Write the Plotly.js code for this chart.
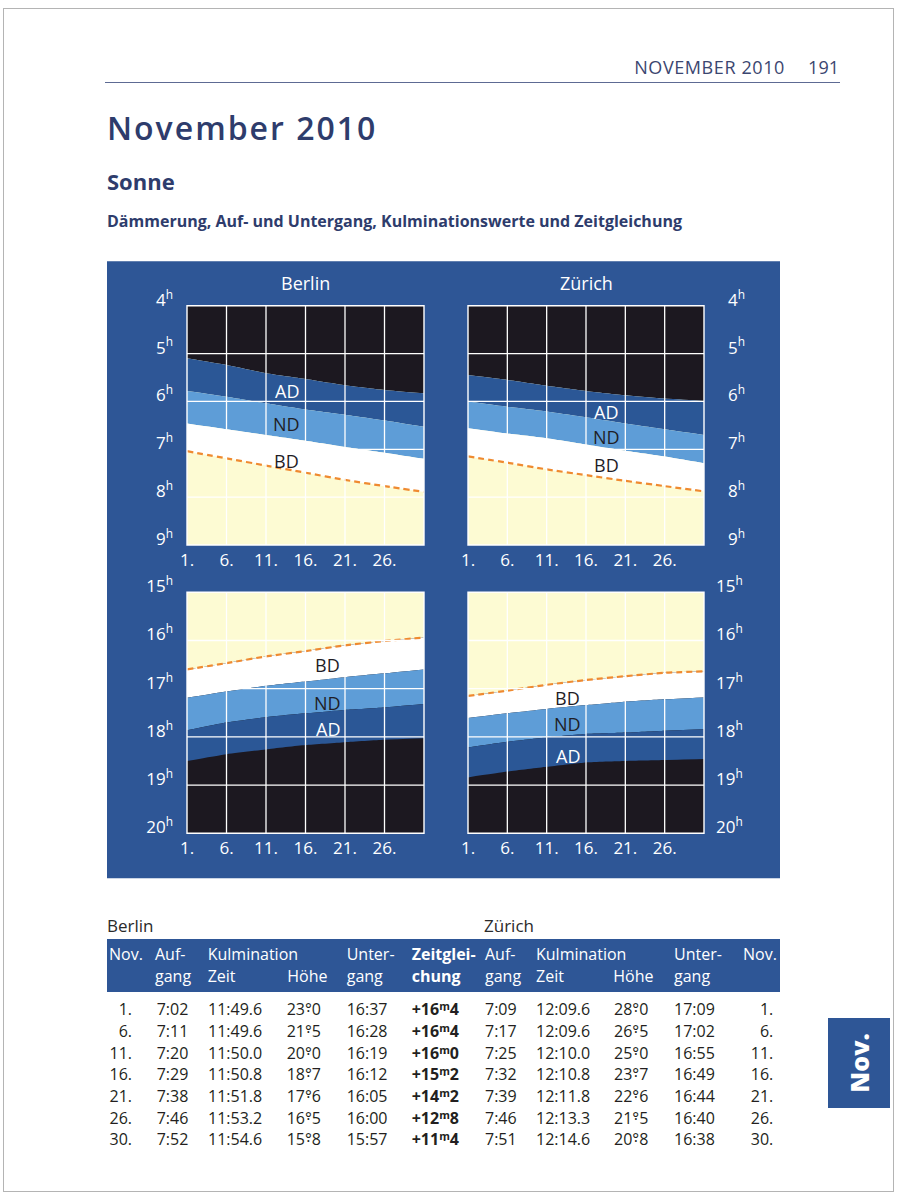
<!DOCTYPE html>
<html>
<head>
<meta charset="utf-8">
<script src="https://cdn.plot.ly/plotly-3.0.1.min.js"></script>
<style>
  html, body { margin:0; padding:0; background:#fff; }
  #page { position:relative; width:901px; height:1197px; overflow:hidden; font-family:'Open Sans', sans-serif; }
  #chart { position:absolute; left:0; top:0; width:901px; height:1197px; }
  .t { position:absolute; white-space:nowrap; line-height:1; z-index:5; }
  .frame { position:absolute; left:3px; top:8px; width:889px; height:1182px; border:1px solid #b4b4b4; z-index:1; pointer-events:none; }
  .dd { position:relative; display:inline-block; }
  .dd::after { content:'.'; position:absolute; left:0; right:0; text-align:center; top:-0.22em; }
  .mm { position:relative; display:inline-block; font-size:0.68em; vertical-align:0.5em; }
  .mm::after { content:'.'; position:absolute; left:0; right:0; text-align:center; top:0.05em; }
</style>
</head>
<body>
<div id="page">
  <div class="frame"></div>
  <div id="chart"></div>
</div>
<script>
// ---------------- chart data (hours) ----------------
const DAYS = [1, 6, 11, 16, 21, 26, 31];
const XTICKS = [1, 6, 11, 16, 21, 26];
const XTICK_LABELS = ['1.', '6.', '11.', '16.', '21.', '26.'];
const MORNING_HOURS = [4, 5, 6, 7, 8, 9];
const EVENING_HOURS = [15, 16, 17, 18, 19, 20];

// Berlin, morning: start of astronomical / nautical / civil twilight, sunrise
const BER_ASTRO_START = [5.10, 5.24, 5.41, 5.53, 5.66, 5.76, 5.83];
const BER_NAUT_START  = [5.78, 5.90, 6.04, 6.17, 6.28, 6.40, 6.53];
const BER_CIVIL_START = [6.46, 6.58, 6.70, 6.82, 6.95, 7.07, 7.20];
const BER_SUNRISE     = [7.04, 7.19, 7.34, 7.49, 7.64, 7.77, 7.89];
// Zürich, morning
const ZUR_ASTRO_START = [5.45, 5.55, 5.67, 5.78, 5.87, 5.94, 5.99];
const ZUR_NAUT_START  = [6.00, 6.11, 6.21, 6.33, 6.46, 6.58, 6.70];
const ZUR_CIVIL_START = [6.56, 6.67, 6.77, 6.90, 7.03, 7.15, 7.29];
const ZUR_SUNRISE     = [7.15, 7.28, 7.42, 7.54, 7.66, 7.77, 7.88];
// Berlin, evening: sunset, end of civil / nautical / astronomical twilight
const BER_SUNSET    = [16.60, 16.47, 16.33, 16.22, 16.10, 16.01, 15.94];
const BER_CIVIL_END = [17.19, 17.06, 16.94, 16.85, 16.76, 16.68, 16.60];
const BER_NAUT_END  = [17.86, 17.70, 17.59, 17.51, 17.44, 17.39, 17.32];
const BER_ASTRO_END = [18.50, 18.36, 18.26, 18.17, 18.11, 18.06, 18.03];
// Zürich, evening
const ZUR_SUNSET    = [17.15, 17.04, 16.92, 16.82, 16.74, 16.67, 16.64];
const ZUR_CIVIL_END = [17.61, 17.51, 17.42, 17.34, 17.27, 17.22, 17.18];
const ZUR_NAUT_END  = [18.22, 18.10, 18.01, 17.94, 17.91, 17.87, 17.84];
const ZUR_ASTRO_END = [18.84, 18.72, 18.62, 18.53, 18.50, 18.48, 18.46];

const BAND_LABELS = ['AD', 'ND', 'BD'];

// ---------------- table data ----------------
const TABLE_DAYS    = [1, 6, 11, 16, 21, 26, 30];
const BER_RISE      = ['7:02', '7:11', '7:20', '7:29', '7:38', '7:46', '7:52'];
const BER_CULM_TIME = ['11:49.6', '11:49.6', '11:50.0', '11:50.8', '11:51.8', '11:53.2', '11:54.6'];
const BER_CULM_ALT  = [23.0, 21.5, 20.0, 18.7, 17.6, 16.5, 15.8];
const BER_SET       = ['16:37', '16:28', '16:19', '16:12', '16:05', '16:00', '15:57'];
const EQ_OF_TIME    = [16.4, 16.4, 16.0, 15.2, 14.2, 12.8, 11.4];
const ZUR_RISE      = ['7:09', '7:17', '7:25', '7:32', '7:39', '7:46', '7:51'];
const ZUR_CULM_TIME = ['12:09.6', '12:09.6', '12:10.0', '12:10.8', '12:11.8', '12:13.3', '12:14.6'];
const ZUR_CULM_ALT  = [28.0, 26.5, 25.0, 23.7, 22.6, 21.5, 20.8];
const ZUR_SET       = ['17:09', '17:02', '16:55', '16:49', '16:44', '16:40', '16:38'];

// ---------------- styles ----------------
const C = {
  night: '#1c1820', astro: '#2b5796', naut: '#5e9dd7', civil: '#ffffff',
  day: '#fdfbd3', sun: '#ef8a30', panel: '#2e5696', ink: '#1f1d26', title: '#2e3c6c'
};
const W = 901, H = 1197;
const px = v => v / W;
const py = v => 1 - v / H;
const FONT = 'Open Sans, sans-serif';

const base = (xa, ya, y) => ({
  x: DAYS, y: y, xaxis: xa, yaxis: ya, type: 'scatter', mode: 'lines',
  line: { width: 0, shape: 'spline', smoothing: 0.5 }, hoverinfo: 'skip', showlegend: false
});
function morningTraces(xa, ya, astro, naut, civil, sun) {
  return [
    Object.assign(base(xa, ya, astro), { fill: 'tozeroy', fillcolor: C.night }),
    Object.assign(base(xa, ya, naut),  { fill: 'tonexty', fillcolor: C.astro }),
    Object.assign(base(xa, ya, civil), { fill: 'tonexty', fillcolor: C.naut }),
    Object.assign(base(xa, ya, sun),   { fill: 'tonexty', fillcolor: C.civil }),
    Object.assign(base(xa, ya, sun),   { line: { color: C.sun, width: 2.2, dash: '6px,4px', shape: 'spline', smoothing: 0.5 } })
  ];
}
function eveningTraces(xa, ya, sun, civil, naut, astro) {
  return [
    Object.assign(base(xa, ya, sun),   { fill: 'tozeroy', fillcolor: C.day }),
    Object.assign(base(xa, ya, civil), { fill: 'tonexty', fillcolor: C.civil }),
    Object.assign(base(xa, ya, naut),  { fill: 'tonexty', fillcolor: C.naut }),
    Object.assign(base(xa, ya, astro), { fill: 'tonexty', fillcolor: C.astro }),
    Object.assign(base(xa, ya, sun),   { line: { color: C.sun, width: 2.2, dash: '6px,4px', shape: 'spline', smoothing: 0.5 } })
  ];
}

const data = [].concat(
  morningTraces('x',  'y',  BER_ASTRO_START, BER_NAUT_START, BER_CIVIL_START, BER_SUNRISE),
  morningTraces('x2', 'y2', ZUR_ASTRO_START, ZUR_NAUT_START, ZUR_CIVIL_START, ZUR_SUNRISE),
  eveningTraces('x3', 'y3', BER_SUNSET, BER_CIVIL_END, BER_NAUT_END, BER_ASTRO_END),
  eveningTraces('x4', 'y4', ZUR_SUNSET, ZUR_CIVIL_END, ZUR_NAUT_END, ZUR_ASTRO_END)
);

const LEFT_DOM = [px(187), px(424)];
const RIGHT_DOM = [px(468), px(704)];
const TOP_DOM = [py(545), py(305.7)];
const BOT_DOM = [py(833.3), py(592.3)];

const tickFont = { family: FONT, size: 17, color: '#ffffff' };
function xAxis(dom, anchor) {
  return {
    domain: dom, anchor: anchor, range: [DAYS[0], DAYS[DAYS.length - 1]],
    tickmode: 'array', tickvals: XTICKS, ticktext: XTICK_LABELS,
    showgrid: false, zeroline: false, showline: false, ticks: '',
    tickfont: tickFont, ticklabelstandoff: 3, fixedrange: true
  };
}
function yAxis(dom, anchor, hours, side, standoff) {
  return {
    domain: dom, anchor: anchor, range: [hours[hours.length - 1], hours[0]],
    tickmode: 'array', tickvals: hours, ticktext: hours.map(h => h + '<sup>h</sup>'),
    side: side, showgrid: false, zeroline: false, showline: false, ticks: '',
    tickfont: tickFont, ticklabelstandoff: standoff, ticklabelshift: 6, fixedrange: true
  };
}

const subplots = [
  { xa: 'x',  ya: 'y',  hours: MORNING_HOURS, bg: C.day },
  { xa: 'x2', ya: 'y2', hours: MORNING_HOURS, bg: C.day },
  { xa: 'x3', ya: 'y3', hours: EVENING_HOURS, bg: C.night },
  { xa: 'x4', ya: 'y4', hours: EVENING_HOURS, bg: C.night }
];

const shapes = [
  { type: 'rect', xref: 'paper', yref: 'paper', x0: px(107), x1: px(780), y0: py(878.3), y1: py(261.3),
    fillcolor: C.panel, line: { width: 0 }, layer: 'below' }
];
// background of each diagram (day below sunrise in the morning, night below dusk in the evening)
subplots.forEach(s => shapes.push({
  type: 'rect', xref: s.xa + ' domain', yref: s.ya + ' domain', x0: 0, x1: 1, y0: 0, y1: 1,
  fillcolor: s.bg, line: { width: 0 }, layer: 'below'
}));
// white grid drawn over the bands
subplots.forEach(s => {
  const xr = s.xa, yr = s.ya;
  XTICKS.slice(1).forEach(d => shapes.push({
    type: 'line', xref: xr, yref: yr + ' domain', x0: d, x1: d, y0: 0, y1: 1,
    line: { color: '#ffffff', width: 1.3 }, layer: 'above'
  }));
  s.hours.slice(1, -1).forEach(h => shapes.push({
    type: 'line', xref: xr + ' domain', yref: yr, x0: 0, x1: 1, y0: h, y1: h,
    line: { color: '#ffffff', width: 1.3 }, layer: 'above'
  }));
  shapes.push({
    type: 'rect', xref: xr + ' domain', yref: yr + ' domain', x0: 0, x1: 1, y0: 0, y1: 1,
    line: { color: '#ffffff', width: 1.4 }, layer: 'above'
  });
});

const bandFont = c => ({ family: FONT, size: 18, color: c });
function bandLabels(xa, ya, x, ys, colors) {
  return BAND_LABELS.map((t, i) => ({
    text: t, xref: xa, yref: ya, x: x, y: ys[i], showarrow: false,
    xanchor: 'center', yanchor: 'middle', font: bandFont(colors[i])
  }));
}
const annotations = [].concat(
  [{ text: 'Berlin', xref: 'paper', yref: 'paper', x: px(305.5), y: py(283.5), showarrow: false,
     xanchor: 'center', yanchor: 'middle', font: { family: FONT, size: 18, color: '#ffffff' } },
   { text: 'Zürich', xref: 'paper', yref: 'paper', x: px(586), y: py(283.5), showarrow: false,
     xanchor: 'center', yanchor: 'middle', font: { family: FONT, size: 18, color: '#ffffff' } }],
  bandLabels('x',  'y',  13.6, [5.78, 6.47, 7.25], ['#ffffff', C.ink, C.ink]),
  bandLabels('x2', 'y2', 18.6, [6.22, 6.75, 7.32], ['#ffffff', C.ink, C.ink]),
  bandLabels('x3', 'y3', 18.8, [17.84, 17.29, 16.51], ['#ffffff', C.ink, C.ink]),
  bandLabels('x4', 'y4', 13.7, [18.40, 17.74, 17.19], ['#ffffff', C.ink, C.ink])
);

const layout = {
  width: W, height: H, margin: { l: 0, r: 0, t: 0, b: 0 },
  paper_bgcolor: 'rgba(0,0,0,0)', plot_bgcolor: 'rgba(0,0,0,0)', showlegend: false,
  font: { family: FONT },
  xaxis: xAxis(LEFT_DOM, 'y'),   yaxis: yAxis(TOP_DOM, 'x', MORNING_HOURS, 'left', 13),
  xaxis2: xAxis(RIGHT_DOM, 'y2'), yaxis2: yAxis(TOP_DOM, 'x2', MORNING_HOURS, 'right', 23),
  xaxis3: xAxis(LEFT_DOM, 'y3'), yaxis3: yAxis(BOT_DOM, 'x3', EVENING_HOURS, 'left', 13),
  xaxis4: xAxis(RIGHT_DOM, 'y4'), yaxis4: yAxis(BOT_DOM, 'x4', EVENING_HOURS, 'right', 11),
  shapes: shapes, annotations: annotations
};

Plotly.newPlot('chart', data, layout, { staticPlot: true, displayModeBar: false });

// ---------------- page text and table (HTML) ----------------
const page = document.getElementById('page');
function addText(html, opt) {
  const d = document.createElement('div');
  d.className = 't';
  d.innerHTML = html;
  Object.assign(d.style, opt);
  page.appendChild(d);
  return d;
}
function addBox(opt) {
  const d = document.createElement('div');
  d.style.position = 'absolute';
  Object.assign(d.style, opt);
  page.appendChild(d);
  return d;
}
// header
addText('NOVEMBER 2010', { right: (W - 785) + 'px', top: '58px', fontSize: '18px', color: '#3b4670', letterSpacing: '0.6px' });
addText('191', { right: (W - 839) + 'px', top: '58px', fontSize: '18px', color: '#3b4670' });
addBox({ left: '105px', top: '81.5px', width: '735px', height: '1.5px', background: '#5d6a93', zIndex: 5 });
addText('November 2010', { left: '107px', top: '112px', fontSize: '32px', fontWeight: '600', color: C.title, letterSpacing: '2px' });
addText('Sonne', { left: '107px', top: '170px', fontSize: '22px', fontWeight: '700', color: C.title });
addText('Dämmerung, Auf- und Untergang, Kulminationswerte und Zeitgleichung',
  { left: '107px', top: '212.5px', fontSize: '16px', fontWeight: '700', color: C.title });

// table
addText('Berlin', { left: '107px', top: '917px', fontSize: '17px', color: '#2a2a2a' });
addText('Zürich', { left: '484px', top: '917px', fontSize: '17px', color: '#2a2a2a' });
addBox({ left: '107px', top: '939px', width: '673px', height: '53px', background: C.panel, zIndex: 4 });

const HDR1 = [['Nov.', 109], ['Auf-', 155], ['Kulmination', 207.7], ['Unter-', 346.7], ['<b>Zeitglei-</b>', 411.7],
              ['Auf-', 485], ['Kulmination', 536], ['Unter-', 674], ['Nov.', 743]];
const HDR2 = [['gang', 155], ['Zeit', 207.7], ['Höhe', 287.3], ['gang', 346.7], ['<b>chung</b>', 411.7],
              ['gang', 485], ['Zeit', 536], ['Höhe', 613.3], ['gang', 674]];
HDR1.forEach(([t, x]) => addText(t, { left: x + 'px', top: '945.5px', fontSize: '16px', color: '#ffffff' }));
HDR2.forEach(([t, x]) => addText(t, { left: x + 'px', top: '968.2px', fontSize: '16px', color: '#ffffff' }));

const deg = v => { const s = v.toFixed(1).split('.'); return s[0] + '<span class="dd">°</span>' + s[1]; };
const eqt = v => { const s = v.toFixed(1).split('.'); return '+' + s[0] + '<span class="mm">m</span>' + s[1]; };
const ROW0 = 1001.2, ROWSTEP = 21.67;
const cellStyle = { fontSize: '16px', color: '#231f20' };
TABLE_DAYS.forEach((d, i) => {
  const top = (ROW0 + i * ROWSTEP) + 'px';
  const L = (t, x, extra) => addText(t, Object.assign({ left: x + 'px', top: top }, cellStyle, extra || {}));
  const R = (t, x) => addText(t, Object.assign({ right: (W - x) + 'px', top: top }, cellStyle));
  R(d + '.', 132);
  L(BER_RISE[i], 156.7);
  L(BER_CULM_TIME[i], 208);
  L(deg(BER_CULM_ALT[i]), 286.7);
  L(BER_SET[i], 346.7);
  L(eqt(EQ_OF_TIME[i]), 411.7, { fontWeight: '700' });
  L(ZUR_RISE[i], 485);
  L(ZUR_CULM_TIME[i], 536);
  L(deg(ZUR_CULM_ALT[i]), 614);
  L(ZUR_SET[i], 674);
  R(d + '.', 773.3);
});

// side tab
addBox({ left: '828px', top: '1018px', width: '62px', height: '90px', background: C.panel, zIndex: 4 });
addText('Nov.', { left: '859px', top: '1063px', fontSize: '25px', fontWeight: '800', color: '#ffffff',
  transform: 'translate(-50%,-50%) rotate(-90deg)' });
</script>
</body>
</html>
